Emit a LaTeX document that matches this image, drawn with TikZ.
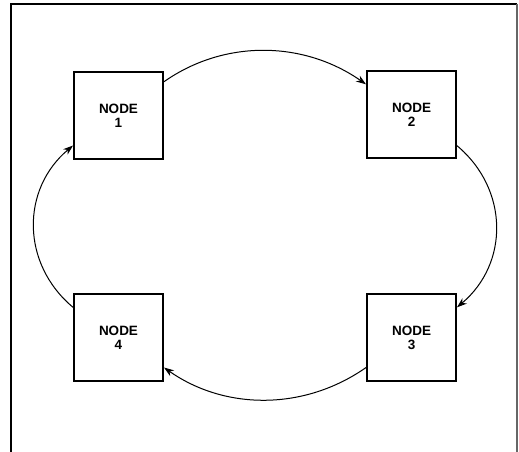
\documentclass[tikz,border=0pt]{standalone}
\usepackage{fontspec}
\newfontfamily\labelfont{Liberation Sans}
\usetikzlibrary{arrows.meta}

\begin{document}
\begin{tikzpicture}[x=1pt, y=1pt,
  box/.style={draw, line width=2pt, minimum width=89pt, minimum height=87pt,
    inner sep=0pt, align=center,
    font=\labelfont\bfseries\fontsize{13.5}{13.5}\selectfont},
  link/.style={line width=1pt, -{Stealth[length=10pt, width=7pt]}}]
  \useasboundingbox (0,0) rectangle (519,452);

  % Frame
  \draw[line width=1.3pt] (11,0) -- (11,448) -- (517,448);
  \draw[line width=1.3pt, black!60] (517,448) -- (517,0);

  % Nodes
  \node[box] (n1) at (118.5,336) {NODE\\1};
  \node[box] (n2) at (411.5,337) {NODE\\2};
  \node[box] (n3) at (411.5,114) {NODE\\3};
  \node[box] (n4) at (118.5,114) {NODE\\4};

  % Ring
  \draw[link] (n1.37) to[out=35, in=145, distance=75pt] (n2.146);
  \draw[link] (n2.-34) to[out=-40, in=40, distance=68pt] (n3.34);
  \draw[link] (n3.-147) to[out=-145, in=-35, distance=75pt] (n4.-33);
  \draw[link] (n4.146) to[out=140, in=220, distance=68pt] (n1.-147);
\end{tikzpicture}
\end{document}
